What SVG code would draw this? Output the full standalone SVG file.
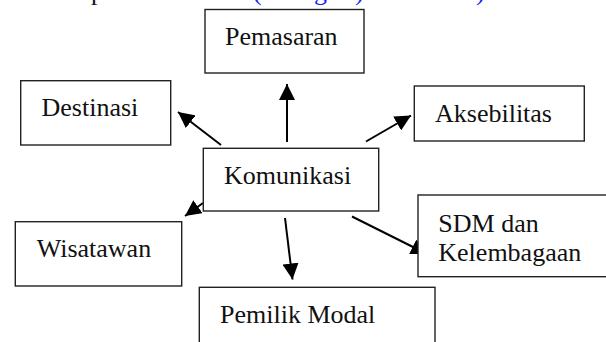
<svg xmlns="http://www.w3.org/2000/svg" width="606" height="342" viewBox="0 0 606 342">
<style>
.box{fill:#fff;stroke:#222;stroke-width:1.4}
.t{font-family:"Liberation Serif","Times New Roman",serif;font-size:26px;fill:#111}
.frag{font-family:"Liberation Serif","Times New Roman",serif;font-size:26px}
.c{stroke:#000;stroke-width:2;fill:none;marker-end:url(#ah)}
</style>
<defs>
<marker id="ah" markerUnits="userSpaceOnUse" markerWidth="17" markerHeight="16" refX="16" refY="8" orient="auto" viewBox="0 0 17 16">
<path d="M0,0 L16,8 L0,16 z" fill="#000"/>
</marker>
</defs>
<rect width="606" height="342" fill="#fff"/>
<g id="top-line-fragments">
<text class="frag" x="91" y="0" fill="#111">p</text>
<text class="frag" x="253" y="0" fill="#1a1aff">(</text>
<text class="frag" x="314" y="0" fill="#1a1aff">g</text>
<text class="frag" x="355" y="0" fill="#1a1aff">)</text>
<text class="frag" x="476" y="0" fill="#1a1aff">)</text>
</g>
<g id="connectors">
<line class="c" x1="287" y1="142" x2="287" y2="84"/>
<line class="c" x1="221" y1="145" x2="178" y2="112"/>
<line class="c" x1="366" y1="141.5" x2="411" y2="115.5"/>
<line class="c" x1="203" y1="203" x2="185" y2="216"/>
<line class="c" x1="285" y1="218" x2="292.5" y2="279.5"/>
<line class="c" x1="352" y1="216.5" x2="427" y2="254"/>
</g>
<g id="pemasaran">
<rect class="box" x="205" y="9.5" width="159" height="63.5"/>
<text class="t" x="225" y="45">Pemasaran</text>
</g>
<g id="destinasi">
<rect class="box" x="20.7" y="80.7" width="150" height="64.3"/>
<text class="t" x="41.5" y="116">Destinasi</text>
</g>
<g id="aksebilitas">
<rect class="box" x="414.3" y="86" width="170" height="55"/>
<text class="t" x="435" y="122.3">Aksebilitas</text>
</g>
<g id="komunikasi">
<rect class="box" x="203.3" y="148.3" width="175.4" height="62.7"/>
<text class="t" x="224" y="184">Komunikasi</text>
</g>
<g id="sdm">
<rect class="box" x="418" y="195" width="200" height="81.7"/>
<text class="t" x="438.3" y="231.7">SDM dan</text>
<text class="t" x="438.3" y="261">Kelembagaan</text>
</g>
<g id="wisatawan">
<rect class="box" x="15.3" y="221.7" width="166.4" height="64.3"/>
<text class="t" x="36.7" y="256.7">Wisatawan</text>
</g>
<g id="pemilik-modal">
<rect class="box" x="199.3" y="287.3" width="235.7" height="70"/>
<text class="t" x="220" y="322.7">Pemilik Modal</text>
</g>
</svg>
